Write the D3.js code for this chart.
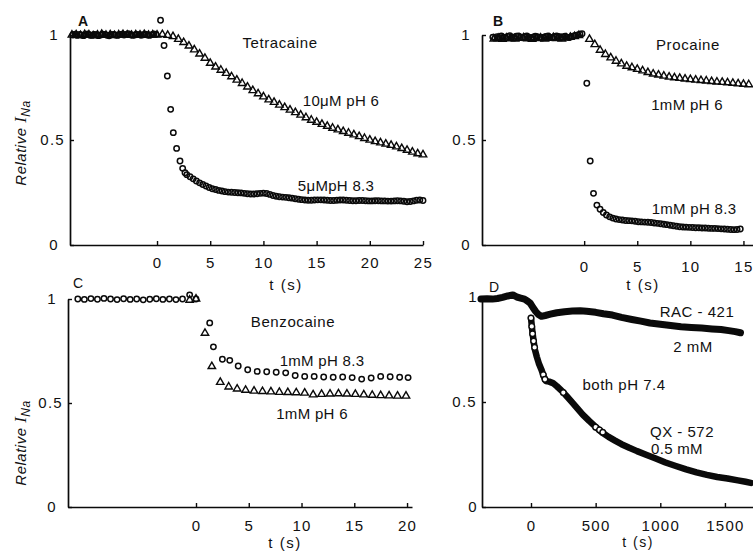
<!DOCTYPE html>
<html><head><meta charset="utf-8">
<script src="https://cdn.jsdelivr.net/npm/d3@7"></script>
<style>
body{margin:0;background:#fff;}
svg{display:block;background:#fff;}
text{font-family:"Liberation Sans",Arial,Helvetica,sans-serif;fill:#111;}
</style></head><body>
<svg id="chart" width="753" height="558"></svg>
<script>
// ---------------- DATA ----------------
// Panel A: Tetracaine
const aTicks = [0, 5, 10, 15, 20, 25];
const aBaseCirc = {t0: -7.9, dt: 0.2, v: [1.0,1.004,0.998,1.003,1.0,0.997,1.002,1.005,1.0,0.998,1.003,1.001,0.997,1.0,1.004,1.002,0.999,0.996,1.001,1.003,1.0,0.998,1.002,1.004,1.0,1.003,1.006,1.001,0.998,1.0,1.003,1.002,0.999,1.001,1.004,1.0,0.998,1.002,1.005,1.003]};
const aBaseTri = {t0: -8.0, dt: 0.4, v: [1.0,1.002,0.998,1.003,1.001,0.997,1.0,1.004,0.999,1.002,0.998,1.001,1.003,1.0,0.999,1.002,1.0,1.003,0.999,1.001,1.0]};
const aCircEarly = [[0.33,1.07],[0.66,0.95],[0.97,0.805],[1.28,0.646],[1.53,0.535],[1.84,0.46],[2.16,0.40],[2.41,0.365],[2.63,0.344]];
const aCircTail = {t0: 2.8, dt: 0.3, v: [
  0.335,0.325,0.315,0.305,0.296,0.288,0.281,0.274,0.268,0.264,
  0.26,0.257,0.254,0.252,0.251,0.25,0.249,0.248,0.246,0.244,
  0.243,0.243,0.244,0.246,0.247,0.245,0.241,0.236,0.232,0.23,
  0.228,0.227,0.225,0.223,0.22,0.218,0.216,0.214,0.213,0.213,
  0.214,0.215,0.215,0.214,0.213,0.212,0.212,0.213,0.214,0.214,
  0.213,0.212,0.211,0.211,0.212,0.212,0.211,0.21,0.21,0.211,
  0.211,0.21,0.21,0.209,0.209,0.21,0.211,0.21,0.208,0.206,
  0.207,0.21,0.213,0.214,0.212]};
const aTri = {t0: 0.5, dt: 0.5, v: [
  1.003,0.999,0.993,0.98,0.965,0.948,0.93,0.91,0.89,0.866,
  0.848,0.833,0.818,0.802,0.786,0.77,0.753,0.736,0.721,0.706,
  0.692,0.68,0.667,0.655,0.643,0.631,0.619,0.607,0.595,0.585,
  0.575,0.566,0.557,0.549,0.541,0.533,0.525,0.517,0.508,0.5,
  0.493,0.487,0.481,0.475,0.468,0.46,0.452,0.443,0.435,0.43]};

// Panel B: Procaine
const bTicks = [0, 5, 10, 15];
const bBaseCirc = {t0: -8.6, dt: 0.2, v: [0.99,0.985,0.992,0.988,0.995,0.99,0.986,0.993,0.997,0.99,0.988,0.994,0.996,0.991,0.987,0.992,0.995,0.99,0.986,0.99,0.994,0.992,0.988,0.985,0.99,0.993,0.995,0.99,0.987,0.992,0.996,0.993,0.989,0.991,0.994,0.99,0.988,0.992,0.995,0.998,1.0,1.004,1.006]};
const bBaseTri = {t0: -8.5, dt: 0.4, v: [0.982,0.985,0.98,0.986,0.983,0.981,0.985,0.987,0.983,0.98,0.984,0.986,0.982,0.985,0.988,0.984,0.982,0.986,0.99,0.993,0.998]};
const bTri = {t0: 0.5, dt: 0.5, v: [0.98,0.955,0.928,0.908,0.892,0.876,0.863,0.852,0.845,0.837,0.83,0.822,0.815,0.81,0.805,0.8,0.797,0.794,0.791,0.788,0.786,0.784,0.782,0.779,0.777,0.775,0.773,0.771,0.768,0.766,0.764]};
const bCircEarly = [[0.25,0.77],[0.57,0.40],[0.88,0.246],[1.2,0.19]];
const bCircTail = {t0: 1.5, dt: 0.3, v: [
  0.17,0.155,0.143,0.134,0.128,0.124,0.121,0.119,0.117,0.116,
  0.115,0.113,0.111,0.11,0.109,0.108,0.107,0.105,0.103,0.101,
  0.099,0.097,0.094,0.092,0.089,0.087,0.086,0.085,0.084,0.083,
  0.082,0.082,0.081,0.081,0.08,0.079,0.079,0.078,0.077,0.076,
  0.075,0.074,0.073,0.074,0.076]};

// Panel C: Benzocaine
const cTicks = [0, 5, 10, 15, 20];
const cBaseCirc = {t0: -11.2, dt: 0.62, v: [1.0,0.998,1.002,0.999,1.003,1.0,0.997,1.001,0.998,1.0,0.996,0.999,1.001,0.998,1.0,0.997,1.0]};
const cCirc = [[-0.6,1.02],[0,1.0],[1.3,0.885],[1.65,0.77],[2.5,0.71],[3.2,0.705],[4.0,0.678],[4.9,0.66],[5.8,0.652],[6.7,0.65],[7.6,0.648],[8.5,0.645],[9.4,0.632],[10.3,0.628],[11.2,0.628],[12.1,0.625],[13.0,0.624],[13.9,0.625],[14.8,0.622],[15.7,0.615],[16.6,0.62],[17.5,0.628],[18.4,0.626],[19.3,0.624],[20.1,0.622]];
const cTri = [[-0.6,0.995],[0,1.0],[0.85,0.836],[1.5,0.676],[2.3,0.6],[3.1,0.578],[3.9,0.568],[4.7,0.562],[5.5,0.558],[6.3,0.556],[7.1,0.554],[7.9,0.552],[8.7,0.551],[9.5,0.55],[10.3,0.548],[11.1,0.54],[11.9,0.542],[12.7,0.544],[13.5,0.545],[14.3,0.544],[15.1,0.542],[15.9,0.54],[16.7,0.538],[17.5,0.536],[18.3,0.535],[19.1,0.534],[19.9,0.534]];

// Panel D: RAC-421 and QX-572
const dTicks = [0, 500, 1000, 1500];
const dRac = [[-387,0.99],[-340,0.992],[-300,0.99],[-260,0.993],[-220,0.998],[-180,1.005],[-140,1.01],[-110,1.0],[-80,0.995],[-50,0.99],[-25,0.98],[-5,0.97],[15,0.95],[35,0.932],[55,0.918],[80,0.908],[110,0.912],[150,0.918],[200,0.925],[260,0.93],[320,0.933],[380,0.935],[430,0.932],[500,0.927],[560,0.92],[630,0.914],[700,0.903],[780,0.893],[850,0.885],[920,0.876],[1000,0.87],[1080,0.864],[1160,0.858],[1240,0.855],[1320,0.852],[1400,0.848],[1470,0.845],[1530,0.84],[1580,0.835],[1620,0.83]];
const dQx = [[0,0.9],[10,0.84],[20,0.79],[30,0.75],[45,0.715],[60,0.685],[80,0.655],[100,0.62],[115,0.6],[140,0.597],[170,0.59],[200,0.575],[240,0.552],[280,0.525],[320,0.497],[360,0.468],[400,0.44],[450,0.41],[500,0.382],[550,0.355],[600,0.334],[650,0.316],[700,0.299],[760,0.282],[820,0.266],[890,0.249],[960,0.232],[1040,0.212],[1120,0.195],[1200,0.179],[1280,0.165],[1360,0.153],[1440,0.143],[1520,0.136],[1600,0.127],[1660,0.12],[1700,0.115]];
const dQxCirc = [[0,0.9],[6,0.86],[12,0.825],[20,0.79],[28,0.76],[95,0.63],[108,0.608],[250,0.545],[500,0.38],[530,0.367],[555,0.356]];

const yTicks = [0, 0.5, 1];

// ---------------- DRAW ----------------
const svg = d3.select("#chart");
svg.append("rect").attr("width",753).attr("height",558).attr("fill","#fff");
const INK = "#0a0a0a";

const reg = s => s.v.map((v,i)=>({t: s.t0 + i*s.dt, v}));
const prs = a => a.map(([t,v])=>({t,v}));

function panel(xDom, xRange, yRange, xticks, xPad, yShift) {
  const x = d3.scaleLinear().domain(xDom).range(xRange);
  const y = d3.scaleLinear().domain([0,1]).range(yRange);
  const g = svg.append("g");
  const xa = g.append("g").attr("transform", `translate(0,${yRange[0]})`)
    .call(d3.axisBottom(x).tickValues(xticks).tickSizeInner(-4).tickSizeOuter(0).tickPadding(xPad).tickFormat(d3.format("d")));
  const ya = g.append("g").attr("transform", `translate(${xRange[0]},0)`)
    .call(d3.axisLeft(y).tickValues(yTicks).tickSizeInner(-4).tickSizeOuter(0).tickPadding(5).tickFormat(d => d===0.5 ? "0.5" : d3.format("d")(d)));
  [xa, ya].forEach(a => {
    a.select(".domain").attr("stroke", INK).attr("stroke-width", 1.7);
    a.selectAll(".tick line").attr("stroke", INK).attr("stroke-width", 1.4);
    a.selectAll(".tick text").attr("fill", INK).style("font-size","15px").style("letter-spacing","1.3px").attr("font-family", null);
  });
  ya.selectAll(".tick text").attr("dx", d => d===0.5 ? 0 : yShift);
  return {g, x, y};
}

function circles(p, pts, r=2.7, fill="none", sw=1.5) {
  p.g.append("g").selectAll("circle").data(pts).join("circle")
    .attr("cx", d=>p.x(d.t)).attr("cy", d=>p.y(d.v)).attr("r", r)
    .attr("fill", fill).attr("stroke", INK).attr("stroke-width", sw);
}
function triangles(p, pts, size=24) {
  const sym = d3.symbol().type(d3.symbolTriangle).size(size);
  p.g.append("g").selectAll("path").data(pts).join("path")
    .attr("d", sym).attr("transform", d=>`translate(${p.x(d.t)},${p.y(d.v)})`)
    .attr("fill", "none").attr("stroke", INK).attr("stroke-width", 1.4);
}
function label(txt, x, y, size=15, opts={}) {
  const t = svg.append("text").attr("x", x).attr("y", y).text(txt)
    .style("font-size", size+"px").attr("text-anchor", opts.anchor || "middle");
  if (opts.bold) t.style("font-weight","bold");
  if (opts.ls) t.style("letter-spacing", opts.ls);
  return t;
}
function yLabel(cx, cy) {
  const t = svg.append("text").attr("transform", `translate(${cx},${cy}) rotate(-90)`)
    .attr("text-anchor","middle").style("font-size","15px").style("font-style","italic").style("letter-spacing","0.5px");
  t.append("tspan").text("Relative ");
  t.append("tspan").text("I").style("font-family","'Liberation Serif',serif").style("font-size","17px");
  t.append("tspan").text("Na").attr("dy", 4).style("font-size","12px");
}

// Panel A
const A = panel([-8.18, 25], [70, 423], [245, 35], aTicks, 12, -6);
triangles(A, reg(aBaseTri));
circles(A, reg(aBaseCirc));
triangles(A, reg(aTri));
circles(A, prs(aCircEarly));
circles(A, reg(aCircTail));
label("A", 83, 26, 14, {bold:true});
label("Tetracaine", 280, 48, 15, {ls:"0.6px"});
label("10\u03bcM pH 6", 341, 106, 15, {ls:"0.3px"});
label("5\u03bcMpH 8.3", 336, 191, 15, {ls:"0.3px"});
label("t (s)", 286, 290, 15, {ls:"1.5px"});
yLabel(26, 143);

// Panel B
const B = panel([-9.62, 15.9], [482, 753], [245, 35], bTicks, 16, -6);
triangles(B, reg(bBaseTri));
circles(B, reg(bBaseCirc));
triangles(B, reg(bTri));
circles(B, prs(bCircEarly));
circles(B, reg(bCircTail));
label("B", 498, 26, 14, {bold:true});
label("Procaine", 688, 50, 15, {ls:"0.6px"});
label("1mM pH 6", 687, 110, 15, {ls:"0.3px"});
label("1mM pH 8.3", 694, 214, 15, {ls:"0.3px"});
label("t (s)", 643, 290, 15, {ls:"1.5px"});

// Panel C
const C = panel([-12.13, 20.47], [68, 412], [507, 299], cTicks, 13, -6);
circles(C, reg(cBaseCirc));
triangles(C, prs(cTri));
circles(C, prs(cCirc));
label("C", 78, 288, 14);
label("Benzocaine", 293, 327, 15, {ls:"0.6px"});
label("1mM pH 8.3", 322, 366, 15, {ls:"0.3px"});
label("1mM pH 6", 312, 419, 15, {ls:"0.3px"});
label("t (s)", 285, 548, 15, {ls:"1.5px"});
yLabel(26, 443);

// Panel D
const D = panel([-379, 1717], [482, 753], [507, 297], dTicks, 13, 1);
const line = d3.line().x(d=>D.x(d.t)).y(d=>D.y(d.v)).curve(d3.curveLinear);
D.g.append("path").datum(prs(dRac)).attr("d", line).attr("fill","none").attr("stroke",INK).attr("stroke-width",7).attr("stroke-linejoin","round").attr("stroke-linecap","round");
D.g.append("path").datum(prs(dQx)).attr("d", line).attr("fill","none").attr("stroke",INK).attr("stroke-width",6.5).attr("stroke-linejoin","round").attr("stroke-linecap","round");
circles(D, prs(dQxCirc), 2.8, "#fff", 1.4);
label("D", 494, 292, 14);
label("RAC - 421", 697, 317, 15, {ls:"0.5px"});
label("2 mM", 693, 352, 15, {ls:"0.5px"});
label("both pH 7.4", 624, 390, 15, {ls:"0.5px"});
label("QX - 572", 682, 437, 15, {ls:"0.5px"});
label("0.5 mM", 677, 454, 15, {ls:"0.3px"});
label("t (s)", 638, 547, 14, {ls:"1.5px"});
</script>
</body></html>
